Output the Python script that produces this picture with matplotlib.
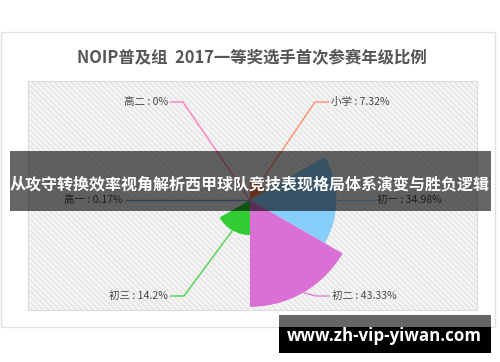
import numpy as np
import matplotlib
matplotlib.use("Agg")
import matplotlib.pyplot as plt
from matplotlib.patches import Rectangle

plt.rcParams['font.family'] = ['Noto Sans CJK SC', 'DejaVu Sans']
plt.rcParams['hatch.linewidth'] = 0.6
plt.rcParams['hatch.color'] = '#e4e4e4'

# ---- data ----
categories = ['小学', '初一', '初二', '初三', '高一', '高二']
values = [7.32, 34.98, 43.33, 14.2, 0.17, 0]
colors = ['#ff7f50', '#87cefa', '#da70d6', '#32cd32', '#6495ed', '#ff69b4']
title = 'NOIP普及组  2017一等奖选手首次参赛年级比例'
banner = '从攻守转换效率视角解析西甲球队竞技表现格局体系演变与胜负逻辑'
watermark = 'www.zh-vip-yiwan.com'

W, H = 500, 362
fig = plt.figure(figsize=(W / 100, H / 100), dpi=100)
fig.patch.set_facecolor('white')

def pix_axes(z):
    a = fig.add_axes([0, 0, 1, 1], zorder=z)
    a.set_xlim(0, W)
    a.set_ylim(H, 0)
    a.axis('off')
    a.patch.set_alpha(0)
    return a

bg = pix_axes(0)
# outer chart box
bg.add_patch(Rectangle((1, 32), 494, 295, facecolor='white', edgecolor='#e2e2e2', lw=1))
# plot area
bg.add_patch(Rectangle((28, 81), 449, 229, facecolor='#f4f4f4', edgecolor='#dcdcdc',
                       lw=0.8, hatch='\\\\\\\\\\\\'))
bg.text(252, 58, title, ha='center', va='center', fontsize=11.8, fontweight='bold', color='#555555')

# rose chart (equal angles, radius by value)
cx, cy, R = 250, 200, 107
pax = fig.add_axes([(cx - R) / W, 1 - (cy + R) / H, 2 * R / W, 2 * R / H],
                   projection='polar', zorder=1)
pax.set_theta_zero_location('N')
pax.set_theta_direction(-1)
n = len(values)
step = 2 * np.pi / n
thetas = np.arange(n) * step
pax.bar(thetas, values, width=step, align='edge', color=colors, edgecolor='none', linewidth=0)
pax.set_ylim(0, max(values))
pax.axis('off')
pax.patch.set_alpha(0)

ann = pix_axes(2)
# label layout: (elbow point, text anchor x, y, side)
layout = [
    ((315, 102), 331, 102, 'left'),
    ((360, 200), 377, 200, 'left'),
    ((316, 296), 332, 296, 'left'),
    ((184, 296), 168, 296, 'right'),
    ((140, 200), 123, 200, 'right'),
    ((183, 102), 168, 102, 'right'),
]
inv = ann.transData.inverted()
for i, (cat, v, c) in enumerate(zip(categories, values, colors)):
    tm = thetas[i] + step / 2
    p = inv.transform(pax.transData.transform((tm, v)))
    (ex, ey), tx, ty, side = layout[i]
    endx = tx - 2 if side == 'left' else tx + 2
    ann.plot([p[0], ex, endx], [p[1], ey, ty], color=c, lw=1, alpha=0.85, solid_capstyle='butt')
    ann.text(tx, ty, f'{cat} : {v:g}%', ha=side, va='center', fontsize=7.6, color='#4a4a4a')

top = pix_axes(3)
top.add_patch(Rectangle((10, 151), 481, 60, facecolor='black', alpha=0.6, edgecolor='none'))
top.text(250, 184, banner, ha='center', va='center', fontsize=11.5, fontweight='bold', color='white')
top.add_patch(Rectangle((279, 315), 212, 12, facecolor='black', alpha=0.6, edgecolor='none'))
top.add_patch(Rectangle((279, 327), 212, 26, facecolor='black', edgecolor='none'))
top.text(384, 336, watermark, ha='center', va='center', fontsize=12.2, fontweight='bold',
         color='white', family=['Open Sans', 'DejaVu Sans'])

fig.savefig('out.png', dpi=100)
